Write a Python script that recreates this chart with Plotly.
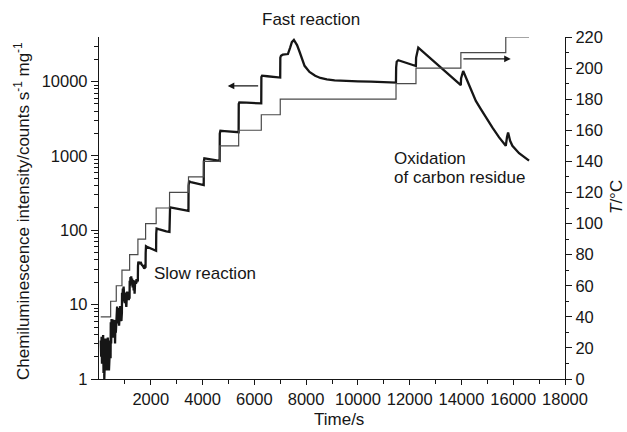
import plotly.graph_objects as go

# ---------------- data ----------------
# Temperature programme (step starts, s) and set temperatures (deg C)
temp_time = [66, 450, 667, 887, 1183, 1503, 1800, 2208, 2725, 3457, 4047, 4663,
             5395, 6269, 7001, 11473, 12244, 13978, 15712, 16611]
temp_value = [40, 50, 60, 70, 80, 90, 100, 110, 120, 130, 140, 150,
              160, 170, 180, 190, 200, 210, 220, 220]

# Chemiluminescence intensity (counts s^-1 mg^-1)
cl_time = [
    70, 85, 100, 115, 130, 145, 160, 175, 190, 205, 220, 235, 250, 265, 280, 295,
    310, 325, 340, 355, 370, 385, 400, 415, 430, 447,
    455, 470, 485, 500, 515, 530, 545, 560, 575, 590, 605, 620, 635, 650, 664,
    672, 685, 700, 715, 730, 745, 760, 775, 790, 805, 820, 835, 850, 865, 884,
    890, 905, 920, 935, 950, 965, 980, 995, 1010, 1025, 1040, 1055, 1070, 1090,
    1110, 1130, 1150, 1170, 1180,
    1186, 1200, 1215, 1230, 1245, 1260, 1280, 1300, 1320, 1340, 1360, 1375, 1390,
    1410, 1430, 1450, 1470, 1490, 1500,
    1506, 1520, 1545, 1570, 1600, 1630, 1660, 1690, 1720, 1750, 1780, 1798,
    1803, 1815, 1850, 1900, 1950, 2000, 2050, 2100, 2150, 2205,
    2211, 2225, 2300, 2400, 2500, 2600, 2722,
    2728, 2745, 2850, 3000, 3150, 3300, 3455,
    3460, 3480, 3550, 3700, 3850, 4045,
    4050, 4070, 4200, 4400, 4660,
    4666, 4690, 4850, 5100, 5393,
    5398, 5420, 5700, 6000, 6267,
    6272, 6300, 6500, 6800, 6999,
    7004, 7030, 7100, 7200, 7297, 7380, 7450, 7527, 7590, 7650, 7750, 7850, 7940,
    8130, 8350, 8550, 8800, 9100, 9500, 10000, 10500, 11000, 11470,
    11478, 11500, 11560, 12240,
    12248, 12333, 13975,
    13985, 14067, 14299, 14556, 14749, 14942, 15198, 15455, 15713,
    15760, 15802, 15880, 15968, 16225, 16611,
]
cl_value = [
    3.3, 2.0, 3.7, 1.6, 3.4, 2.3, 3.9, 1.2, 3.0, 1.0, 2.6, 1.4, 3.5, 1.8, 3.2, 1.3,
    2.9, 1.5, 3.6, 2.1, 3.3, 1.3, 2.7, 1.6, 3.1, 1.9,
    5.8, 3.0, 6.4, 3.6, 6.0, 4.0, 6.3, 4.4, 5.9, 3.6, 6.2, 3.0, 5.6, 4.2, 6.0,
    8.5, 6.2, 9.4, 7.0, 9.0, 5.6, 8.2, 5.2, 8.8, 6.8, 9.6, 7.2, 8.4, 6.0, 7.8,
    14.5, 11.0, 16.5, 12.5, 17.5, 13.0, 15.8, 10.5, 14.5, 9.5, 13.5, 9.3, 12.0, 15.0,
    12.5, 14.8, 11.5, 13.8, 12.0,
    21.0, 18.0, 23.5, 19.5, 24.0, 20.0, 22.5, 17.0, 21.5, 15.5, 19.0, 14.0, 18.5,
    21.0, 19.0, 22.0, 20.0, 21.5, 20.5,
    33, 38, 36, 37.5, 35, 36, 34, 33.5, 32, 33, 31.5, 32,
    50, 61, 60, 59, 58, 56.5, 55.5, 55, 53.5, 53,
    90, 106, 104, 101, 99, 97, 95,
    180, 203, 200, 196, 191, 187, 183,
    400, 455, 445, 430, 418, 405,
    840, 930, 915, 890, 860,
    2000, 2180, 2160, 2120, 2090,
    5000, 5230, 5200, 5150, 5100,
    11500, 12000, 11800, 11500, 11350,
    21000, 22300, 23000, 23200, 23500, 28500, 34000, 36300, 34000, 31000, 25000, 19500, 16300,
    13500, 12000, 11200, 10700, 10400, 10200, 10100, 10000, 9900, 9700,
    15500, 18500, 19400, 16200,
    21000, 28700, 8950,
    11000, 13900, 8800, 5500, 4260, 3300, 2400, 1780, 1370,
    1800, 2070, 1600, 1370, 1090, 865,
]

x_ticks = [2000, 4000, 6000, 8000, 10000, 12000, 14000, 16000, 18000]
x_minor = [1000, 3000, 5000, 7000, 9000, 11000, 13000, 15000, 17000]
y_ticks = [1, 10, 100, 1000, 10000]
t_ticks = [0, 20, 40, 60, 80, 100, 120, 140, 160, 180, 200, 220]

FONT = "Liberation Sans, Arial, Helvetica, sans-serif"
INK = "#161616"
TICKFONT = dict(family=FONT, size=16.5, color=INK)

fig = go.Figure()
fig.add_trace(go.Scatter(x=temp_time, y=temp_value, mode="lines", yaxis="y2",
                         line=dict(color="#4a4a4a", width=1.2, shape="hv"),
                         hoverinfo="skip"))
fig.add_trace(go.Scatter(x=cl_time, y=cl_value, mode="lines", yaxis="y",
                         line=dict(color=INK, width=2.3),
                         hoverinfo="skip"))

fig.update_layout(
    width=627, height=432,
    margin=dict(l=99, r=62, t=37, b=53),
    plot_bgcolor="white", paper_bgcolor="white",
    showlegend=False,
    font=dict(family=FONT, size=17, color=INK),
    xaxis=dict(range=[0, 18000], tickmode="array", tickvals=x_ticks,
               ticktext=[str(v) for v in x_ticks], tickfont=TICKFONT,
               ticks="outside", ticklen=5, tickwidth=1.2, tickcolor=INK,
               showline=True, linecolor=INK, linewidth=1.3,
               showgrid=False, zeroline=False,
               minor=dict(tickmode="array", tickvals=x_minor, ticks="outside",
                          ticklen=4, tickwidth=1.2, tickcolor=INK)),
    yaxis=dict(type="log", range=[0, 4.6], tickmode="array", tickvals=y_ticks,
               ticktext=[str(v) for v in y_ticks], tickfont=TICKFONT,
               ticks="outside", ticklen=7, tickwidth=1.2, tickcolor=INK,
               showline=True, linecolor=INK, linewidth=1.3,
               showgrid=False, zeroline=False,
               minor=dict(dtick="D1", ticks="outside", ticklen=4, tickwidth=1,
                          tickcolor=INK)),
    yaxis2=dict(overlaying="y", side="right", anchor="x", range=[0, 220],
                tickmode="array", tickvals=t_ticks,
                ticktext=[str(v) for v in t_ticks], tickfont=TICKFONT,
                ticks="outside", ticklen=6, tickwidth=1.2, tickcolor=INK,
                showline=True, linecolor=INK, linewidth=1.3,
                showgrid=False, zeroline=False,
                minor=dict(dtick=10, ticks="outside", ticklen=3, tickwidth=1,
                           tickcolor=INK)),
)

# arrows pointing to the axis of each curve
fig.add_annotation(x=4972, y=3.942, ax=6205, ay=3.942, xref="x", yref="y",
                   axref="x", ayref="y", text="", showarrow=True,
                   arrowhead=2, arrowsize=1.1, arrowwidth=1.2, arrowcolor=INK)
fig.add_annotation(x=15905, y=205.9, ax=14017, ay=205.9, xref="x", yref="y2",
                   axref="x", ayref="y2", text="", showarrow=True,
                   arrowhead=2, arrowsize=1.1, arrowwidth=1.2, arrowcolor=INK)

def label(text, x, y, xanchor="left", angle=0, size=17):
    fig.add_annotation(text=text, xref="paper", yref="paper", x=x, y=y,
                       xanchor=xanchor, yanchor="middle", showarrow=False,
                       textangle=angle, font=dict(family=FONT, size=size, color=INK))

W, H, L, B = 466.0, 342.0, 99.0, 379.0
def px(xp): return (xp - L) / W
def py(yp): return (B - yp) / H

label("Fast reaction", px(311), py(20), xanchor="center")
label("Slow reaction", px(152), py(273))
label("Oxidation", px(392), py(158))
label("of carbon residue", px(392), py(178))
label("Time/s", px(339), py(419), xanchor="center")
label("Chemiluminescence intensity/counts s<sup>-1</sup> mg<sup>-1</sup>",
      px(22), py(211), xanchor="center", angle=-90)
label("<i>T</i>/°C", px(616), py(197), xanchor="center", angle=-90)

fig.write_html("out.html")
